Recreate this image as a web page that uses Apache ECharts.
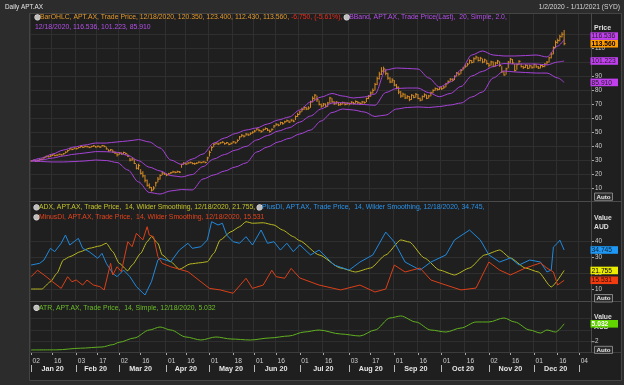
<!DOCTYPE html>
<html><head><meta charset="utf-8">
<script src="https://cdn.jsdelivr.net/npm/echarts@6/dist/echarts.min.js"></script>
<style>html,body{margin:0;padding:0;background:#2c2c2c;}#c{width:624px;height:385px;}</style>
</head><body><div id="c"></div>
<script>
// ---------- categories: ASX trading days 2 Jan 2020 .. 11 Jan 2021 ----------
const holidays = ['2020-01-01','2020-01-27','2020-04-10','2020-04-13','2020-06-08','2020-12-25','2020-12-28','2021-01-01'];
const startDate = '2020-01-02', endDate = '2021-01-11';
const MONTHS = ['Jan','Feb','Mar','Apr','May','Jun','Jul','Aug','Sep','Oct','Nov','Dec'];

// ---------- price bars (one per trading day up to 18 Dec 2020) ----------
const closes = [
29.8,30.3,29.6,30.2,30.8, 31.0,32.4,33.1,32.8,33.5, 34.2,33.6,34.0,34.6,34.1, 35.0,36.1,37.2,38.5,38.0,39.0,
38.6,39.5,40.1,39.6,40.3, 40.0,39.4,40.2,40.6,39.8, 40.4,39.7,40.8,40.2,38.4, 37.0,37.8,36.2,35.4,34.2,
35.6,34.8,35.9,35.0,33.2, 30.4,31.2,28.0,24.6,26.5, 21.0,19.2,16.0,12.4,11.0, 9.0,10.5,14.2,16.8,19.5, 21.2,20.4,
19.8,20.6,21.4,22.0,21.6, 22.2,21.8,27.4,28.2, 27.6,28.4,28.8,28.0,27.8, 28.3,29.0,28.6,29.2,28.7,32.0,
36.0,39.5,41.8, 42.6,41.9,42.8,43.2,42.1, 42.9,41.6,42.4,43.5,42.8, 44.5,47.0,48.2,47.5,49.0, 48.4,49.6,50.3,
51.2,52.6,51.5,50.8,52.2, 53.0,51.8,50.9,52.4, 54.8,56.0,55.3,57.2,56.4, 57.8,58.6,57.5,59.0,58.2, 61.5,63.0,
64.8,66.5,68.0,66.9,67.6, 72.0,74.5,76.8,73.5,70.2, 69.0,70.5,68.6,71.2,74.8, 72.0,70.6,71.8,69.9,70.4, 71.5,70.2,71.0,
70.6,71.8,70.9,72.3,71.4, 70.8,72.0,71.5,
74.5,76.0,78.4,80.2,84.5,88.6,91.8,94.0,95.5,92.4,
89.0,86.2,87.5,84.0,82.5,79.0,76.2,
77.5,74.8,75.9,73.6,76.8,75.2,77.4,74.5,73.2,75.8,77.0,74.6,76.2,78.5,80.2,
81.5,80.8,82.0,81.4,82.6,84.8,
86.5,88.2,87.4,90.0,92.6,91.8,94.5,96.2,97.5,99.0,
101.5,100.2,102.8,104.0,101.6,103.2,100.5,102.0,99.5,
98.2,100.6,97.4,99.8,101.2,98.0,
93.5,91.2,95.6,
100.4,102.5,99.8,94.5,98.6,101.0,
97.2,96.5,98.2,96.0,97.8,96.4,98.6,97.0,96.2,98.0,97.3,99.0,100.4,
103.5,106.2,110.8,114.5,115.8,118.6,120.31,113.56];
const highs = [
30.4,30.7,30.5,30.6,31.2, 31.6,32.8,33.6,33.4,33.9, 34.6,34.4,34.5,35.0,34.9, 35.4,36.6,37.8,38.9,38.8,39.5,
39.4,39.9,40.6,40.3,40.8, 40.7,40.2,40.6,41.1,40.6, 40.8,40.5,41.2,41.0,40.0, 38.2,38.3,37.9,36.6,35.5,
36.2,36.0,36.4,35.8,34.6, 32.0,31.9,31.0,27.5,27.8, 24.0,22.5,19.8,16.5,13.8, 11.2,11.8,15.0,18.4,20.2, 22.4,21.6,
20.8,21.3,22.0,22.8,22.5, 22.9,22.6,27.8,29.0, 28.5,28.9,29.4,28.9,28.6, 28.8,29.5,29.3,29.7,29.4,32.8,
37.2,40.4,42.6, 43.4,42.9,43.3,43.9,43.0, 43.4,42.6,43.0,44.0,43.6, 45.2,47.6,49.0,48.4,49.8, 49.5,50.2,51.0,
52.0,53.4,52.8,51.9,52.9, 53.8,53.2,52.2,53.0, 55.5,56.8,56.4,57.9,57.6, 58.5,59.4,58.8,59.6,59.3, 62.3,64.2,
65.6,67.8,68.8,68.4,68.9, 72.8,76.0,77.6,76.4,73.0, 70.8,71.2,70.9,72.0,75.6, 74.6,72.5,72.6,72.0,71.3, 72.2,72.0,71.8,
71.6,72.5,72.0,73.1,72.6, 71.9,72.7,72.4,
75.0,76.9,79.4,81.6,85.6,90.0,93.5,96.8,97.2,95.3,
92.8,89.6,88.9,87.6,84.8,83.0,79.8,
78.6,77.9,76.8,76.2,77.5,77.0,78.4,77.6,75.0,76.6,78.1,77.2,77.0,79.3,81.0,
82.3,82.0,82.8,82.5,83.4,85.6,
87.4,89.0,88.8,90.9,93.3,93.0,95.4,97.0,98.6,99.8,
102.4,101.9,103.9,105.0,104.1,104.2,103.0,102.9,101.8,
99.8,101.4,100.9,100.6,102.0,101.0,
97.5,94.0,96.4,
101.2,103.4,102.6,99.2,99.4,101.8,
99.4,97.9,98.9,98.5,98.6,98.0,99.3,98.9,97.6,98.8,98.6,99.8,101.2,
104.2,107.4,111.6,115.9,117.2,119.9,121.8,123.4];
const lows = [
29.3,29.6,29.1,29.5,30.0, 30.4,31.2,32.2,32.3,32.7, 33.4,33.2,33.3,33.9,33.7, 34.2,35.2,36.0,37.4,37.5,38.1,
38.0,38.7,39.3,39.2,39.5, 39.5,39.0,39.4,40.0,39.4, 39.6,39.2,40.0,39.6,38.0, 36.4,36.9,35.8,34.9,33.0,
34.0,34.2,34.9,34.3,32.6, 29.5,30.0,27.6,23.8,23.5, 20.2,18.0,14.5,11.5,10.2, 8.0,8.9,11.5,14.6,16.5, 19.6,19.8,
19.0,19.7,20.5,21.2,21.0, 21.4,21.2,25.0,27.1, 27.0,27.5,28.0,27.4,27.1, 27.6,28.2,28.1,28.5,28.1,29.6,
33.0,37.0,39.8, 41.6,41.2,41.9,42.5,41.5, 41.9,41.0,41.5,42.5,42.1, 43.2,45.0,46.8,46.6,47.8, 47.7,48.3,49.4,
50.2,51.5,50.9,49.9,51.0, 52.0,51.2,50.0,51.3, 53.2,54.9,54.6,55.6,55.8, 56.8,57.6,57.0,57.9,57.5, 59.0,61.2,
62.8,64.9,66.2,66.1,66.4, 67.8,71.6,73.4,72.0,69.5, 67.8,68.7,68.0,68.5,70.9, 71.5,69.8,70.2,69.2,69.4, 70.1,69.5,69.8,
69.6,70.3,70.2,70.8,70.5, 69.8,70.6,70.7,
71.8,74.0,75.6,77.9,80.4,84.0,88.0,91.2,92.5,91.0,
87.8,85.4,85.6,83.2,81.0,77.5,74.9,
75.4,74.0,74.2,72.5,73.4,74.6,75.0,73.9,72.4,73.0,75.2,74.0,74.5,76.0,78.2,
80.0,80.1,80.5,80.6,81.3,82.4,
84.9,86.6,86.5,87.6,90.2,90.8,92.0,94.6,96.3,97.4,
99.2,99.5,100.0,102.2,100.8,101.0,99.6,100.1,98.6,
96.8,98.0,96.8,97.2,99.0,97.1,
92.6,90.8,91.5,
96.0,99.8,99.0,93.6,94.9,98.4,
96.6,95.5,96.2,95.4,95.9,95.8,96.1,96.4,95.5,95.9,96.6,96.8,98.7,
100.2,103.0,106.0,110.4,113.6,115.2,118.0,112.43];
const lastOpen = 120.350;

// ---------- Bollinger band (20, 2.0) read at these trading-day indices ----------
const bbIdx = [0,5,10,15,20,25,30,35,40,45,50,55,60,65,70,75,80,85,90,95,100,105,110,115,120,125,130,135,140,145,150,155,160,165,170,175,180,185,190,195,200,205,210,215,220,225,230,235,240,245,248];
const bbUpper = [29.8,31.9,34.8,37.6,39.8,41.2,42.6,42.6,43.4,44.1,45.1,43.4,39.1,30.5,27.3,31.2,34.8,42.6,46.2,49.4,51.9,53.4,56.2,59.1,61.2,66.2,71.9,75.5,78.0,76.2,74.8,75.5,77.6,94.8,96.2,95.9,95.5,89.1,82.6,86.2,94.8,105.5,108.4,105.5,104.8,104.8,105.1,105.5,104.1,111.9,116.536];
const bbMiddle = [29.8,30.6,31.9,33.4,34.6,35.5,36.5,36.4,36.0,33.8,30.0,25.4,22.7,19.4,18.4,20.1,25.8,31.2,34.4,37.5,40.2,44.8,48.0,51.2,53.5,57.6,61.9,67.0,71.2,71.5,70.5,70.1,69.6,78.7,81.6,81.9,81.9,78.6,75.7,78.0,83.0,90.5,93.8,97.3,99.4,99.1,99.1,99.1,98.4,100.5,101.223];
const bbLower = [29.8,29.4,29.1,29.1,29.4,29.8,30.5,30.1,28.7,23.4,14.8,7.3,6.2,8.4,9.4,9.1,16.9,19.8,22.6,25.5,28.4,36.2,39.8,43.4,45.9,49.1,51.9,58.4,64.4,66.9,66.2,64.8,61.6,62.6,66.9,68.0,68.4,68.0,68.7,69.8,71.2,75.5,79.1,89.1,94.1,93.4,93.0,92.6,92.6,89.1,85.910];

// ---------- ADX / DI (14, Wilder) : [tradingDayIndex, value] ----------
const adxPts = [[0,10],[5,10],[9,14.6],[12,19.9],[15,28.4],[18,30.5],[23,33.7],[27,35.8],[32,37.3],[35,39],[38,33.7],[41,26.3],[45,21.6],[47,25.2],[51,32.6],[54,40],[56,43.2],[59,39],[61,31.6],[65,27.3],[69,22.5],[74,25.9],[79,26.7],[82,27.3],[85,32.6],[88,41.1],[93,46.3],[97,49.5],[100,52.7],[103,51.7],[108,52],[113,50.6],[117,47.4],[122,43.2],[125,40.6],[134,31.6],[144,23.3],[151,20.8],[158,23.3],[165,31.6],[172,41.1],[176,39.8],[183,29.7],[190,22],[197,18.9],[204,23.3],[211,31.6],[218,34.7],[223,29.7],[230,23.3],[236,20.8],[242,11.3],[248,21.755]];
const plusDiPts = [[0,25.2],[4,26.3],[6,28.4],[9,35.8],[11,33.7],[14,39],[16,44.2],[18,37.9],[22,42.1],[24,35.8],[27,33.7],[31,29.5],[33,32.6],[35,26.3],[38,19.9],[40,17.8],[43,22],[46,17.8],[49,11.5],[53,6.2],[56,14.6],[59,28.4],[60,29.5],[65,27.3],[69,34.7],[73,39],[75,35.8],[79,36.8],[82,41.1],[84,52.7],[87,50.6],[89,51.7],[91,44.2],[94,40],[97,39],[100,43.2],[103,37.9],[107,47.4],[110,39],[113,40],[116,34.7],[119,39],[122,33.7],[125,38],[130,31.6],[134,34.7],[141,25.2],[148,22],[153,27.1],[159,31.6],[165,46.1],[169,39.8],[174,27.1],[181,22],[186,27.1],[193,31.6],[197,41.1],[204,47.4],[209,41.1],[213,31.6],[218,27.1],[223,29.7],[227,25.2],[232,28.4],[237,27.1],[240,20.8],[242,22],[243,36.6],[245,39.2],[246,41],[248,34.745]];
const minusDiPts = [[0,17.8],[3,21.9],[6,18.9],[10,14.6],[14,10.4],[17,17.8],[19,14.6],[21,15.7],[24,12.5],[26,15.7],[29,12.5],[32,11.5],[34,9.4],[37,26.3],[38,18.9],[40,24.1],[42,21],[45,40],[47,36.8],[49,45.3],[52,41.1],[54,49.5],[55,44.2],[57,43.2],[59,30.5],[61,26.3],[65,24.1],[69,22.5],[73,21],[79,14.6],[83,10.4],[88,9.4],[94,7.3],[100,16.8],[103,10.4],[108,12.5],[112,21.9],[114,17.8],[118,16.8],[121,23.1],[125,17],[134,12.5],[144,9.4],[153,12.5],[160,8.1],[165,10],[169,25.2],[174,20.8],[181,23.3],[186,15.7],[193,12.5],[200,9.4],[207,10.6],[213,27.1],[218,22],[223,18.9],[230,23.3],[237,26.5],[240,23.3],[243,20.8],[245,12.5],[248,15.531]];

// ---------- ATR (14, simple) ----------
const atrPts = [[0,0.6],[12,0.62],[23,0.9],[33,1.1],[38,1.5],[41,1.9],[48,2.63],[55,3.98],[60,4.49],[65,3.98],[72,2.8],[79,2.29],[86,2.8],[93,2.46],[102,2.29],[111,2.63],[120,2.97],[127,3.64],[134,3.98],[144,3.31],[153,2.97],[160,3.98],[167,6.02],[172,6.36],[179,5.34],[186,3.98],[193,3.64],[200,4.32],[207,5.34],[213,5.34],[220,6.02],[225,5.34],[232,3.98],[237,3.47],[240,3.98],[244,3.64],[248,5.032]];

// ================= build =================
function buildDates(){
  const out=[]; const hs=new Set(holidays);
  let d=new Date(startDate+'T00:00:00Z'); const e=new Date(endDate+'T00:00:00Z');
  while(d<=e){const wd=d.getUTCDay(); const s=d.toISOString().slice(0,10);
    if(wd!==0&&wd!==6&&!hs.has(s)) out.push(s); d=new Date(d.getTime()+86400000);}
  return out;
}
const dates = buildDates();
if(highs.length!==closes.length||lows.length!==closes.length) throw new Error('len '+closes.length+' '+highs.length+' '+lows.length);
if(bbUpper.length!==bbIdx.length||bbMiddle.length!==bbIdx.length||bbLower.length!==bbIdx.length) throw new Error('bb len');

const dayTicks=new Set(), monthStarts=new Set(), monthMids=new Set();
{ let s=0;
  for(let i=0;i<dates.length;i++){
    const m=dates[i].slice(0,7), dd=+dates[i].slice(8,10);
    const pm=i>0?dates[i-1].slice(0,7):null, pd=i>0?+dates[i-1].slice(8,10):0;
    if(m!==pm){ if(i>0 && i-s>=10) monthMids.add(Math.floor((s+i-1)/2)); s=i; dayTicks.add(i); monthStarts.add(i); }
    else if(dd>=16 && pd<16) dayTicks.add(i);
  }
  if(dates.length-s>=10) monthMids.add(Math.floor((s+dates.length-1)/2));
}

const FONT='"Liberation Sans", Arial, sans-serif';
const LF=6.85;
const C_BAR='#d88d24', C_BB='#a643d8', C_ADX='#b9b821', C_PDI='#2089dc', C_MDI='#da4018', C_ATR='#60b020';
const GRID_C='#2f2f2f', LBL_C='#cfcfcf';
const L=30, R=33;

const grids=[
  {left:L,right:R,top:34.7,height:154},
  {left:L,right:R,top:241.7,height:47.3},
  {left:L,right:R,top:318.1,height:23.6},
  {left:L,right:R,top:14,height:186},
  {left:L,right:R,top:203,height:97},
  {left:L,right:R,top:303,height:49}
];
const hidX = g=>({type:'category',gridIndex:g,data:dates,boundaryGap:true,show:false});
const panelX = g=>({type:'category',gridIndex:g,position:'bottom',data:dates,boundaryGap:true,axisLine:{show:false},axisTick:{show:false},axisLabel:{show:false},
  splitLine:{show:true,interval:(i)=>dayTicks.has(i),lineStyle:{color:GRID_C,width:1}}});
const xAxes=[hidX(0),hidX(1),hidX(2),panelX(3),panelX(4),
  Object.assign(panelX(5),{offset:5,axisTick:{show:true,interval:(i)=>dayTicks.has(i),alignWithLabel:true,length:3,lineStyle:{color:'#a8a8a8'}},
    axisLabel:{show:true,interval:(i)=>dayTicks.has(i),formatter:v=>v.slice(8,10),align:'left',padding:[0,0,0,1.5],margin:1,color:LBL_C,fontSize:6.6,fontFamily:FONT}}),
  {type:'category',gridIndex:5,position:'bottom',data:dates,boundaryGap:true,offset:13,axisLine:{show:false},splitLine:{show:false},
    axisTick:{show:true,interval:(i)=>monthStarts.has(i),alignWithLabel:true,length:7,lineStyle:{color:'#b8b8b8'}},
    axisLabel:{show:true,interval:(i)=>monthMids.has(i),formatter:v=>MONTHS[+v.slice(5,7)-1]+' '+v.slice(2,4),margin:1,color:'#e6e6e6',fontWeight:'bold',fontSize:7.2,fontFamily:FONT}}
];
const valY=(g,min,max,iv,fmt,tick)=>({type:'value',gridIndex:g,position:'right',min,max,interval:iv,
  axisLine:{show:false},axisTick:{show:tick,length:3,lineStyle:{color:'#a8a8a8'}},
  axisLabel:{formatter:fmt,color:LBL_C,fontSize:6.3,fontFamily:FONT,margin:4},
  splitLine:{show:true,lineStyle:{color:GRID_C,width:1}}});
const yAxes=[valY(0,10,120,10,v=>v<=110?String(v):'',true), valY(1,10,40,10,v=>String(v),true), valY(2,2,6,2,v=>v===2?'2':'',false),
  {type:'value',gridIndex:3,show:false,min:0,max:1},{type:'value',gridIndex:4,show:false,min:0,max:1},{type:'value',gridIndex:5,show:false,min:0,max:1}];

const lineS=(name,data,xi,color,smooth)=>({type:'line',name,xAxisIndex:xi,yAxisIndex:xi,data,showSymbol:false,symbol:'none',clip:false,
  smooth:smooth||false,smoothMonotone:'x',lineStyle:{color,width:1},z:3,silent:true});
const bbPairs=arr=>bbIdx.map((ix,k)=>[ix,arr[k]]);

const series=[
  {type:'custom',name:'BarOHLC',xAxisIndex:0,yAxisIndex:0,clip:false,z:2,silent:true,
    data:closes.map((c,i)=>[i,lows[i],highs[i],c]),encode:{x:0,y:[1,2,3]},
    renderItem:function(params,api){
      const i=api.value(0);
      const pl=api.coord([i,api.value(1)]), ph=api.coord([i,api.value(2)]), pc=api.coord([i,api.value(3)]);
      const x=pl[0];
      return {type:'group',children:[
        {type:'line',shape:{x1:x,y1:ph[1],x2:x,y2:pl[1]+0.01},style:{stroke:C_BAR,lineWidth:1}},
        {type:'line',shape:{x1:x,y1:pc[1],x2:x+1.6,y2:pc[1]},style:{stroke:C_BAR,lineWidth:1}}]};
    }},
  lineS('BBUpper',bbPairs(bbUpper),0,C_BB,0.3),
  lineS('BBMiddle',bbPairs(bbMiddle),0,C_BB,0.3),
  lineS('BBLower',bbPairs(bbLower),0,C_BB,0.3),
  lineS('ADX',adxPts,1,C_ADX,0.2),
  lineS('PlusDI',plusDiPts,1,C_PDI),
  lineS('MinusDI',minusDiPts,1,C_MDI),
  lineS('ATR',atrPts,2,C_ATR,0.3)
];

const chart=echarts.init(document.getElementById('c'),null,{renderer:'canvas'});
chart.setOption({animation:false,backgroundColor:'transparent',grid:grids,xAxis:xAxes,yAxis:yAxes,series});

// ---------- annotations ----------
const n=closes.length-1;
const f3=v=>v.toFixed(3);
const last=a=>a[a.length-1];
const chg=closes[n]-closes[n-1];
const pct=chg/closes[n-1]*100;
const RS=(c,extra)=>Object.assign({fill:c,color:c,fontSize:LF,fontFamily:FONT},extra||{});
const IC={width:5,height:5,backgroundColor:'#bdbdbd',borderColor:'#ececec',borderWidth:0.6,borderRadius:2.5,fill:'transparent',fontSize:5,verticalAlign:'middle'};
const legendRich={ic:IC,o:RS('#e39a30'),r:RS('#ee2c1c'),p:RS('#b450ea'),a:RS('#c6c42a'),b:RS('#2a93ec'),m:RS('#e4441c'),g:RS('#6cbf28')};
const txt=(x,y,text,extra,z)=>({type:'text',x,y,z:(z||60),silent:true,style:Object.assign({text,fontSize:LF,fontFamily:FONT,verticalAlign:'middle',rich:legendRich,fill:'#ddd'},extra||{})});

const els=[];
els.push({type:'rect',z:-10,silent:true,shape:{x:29.5,y:13.5,width:592,height:367},style:{fill:'#1f1f1f',stroke:'#444'}});
els.push({type:'line',z:40,silent:true,shape:{x1:29.5,y1:201.5,x2:621.5,y2:201.5},style:{stroke:'#4a4a4a',lineWidth:1}});
els.push({type:'line',z:40,silent:true,shape:{x1:29.5,y1:301.5,x2:621.5,y2:301.5},style:{stroke:'#4a4a4a',lineWidth:1}});
els.push({type:'line',z:40,silent:true,shape:{x1:29.5,y1:352.5,x2:621.5,y2:352.5},style:{stroke:'#3c3c3c',lineWidth:1}});
els.push({type:'line',z:40,silent:true,shape:{x1:591.5,y1:13.5,x2:591.5,y2:352.5},style:{stroke:'#4a4a4a',lineWidth:1}});
els.push(txt(5,7,'Daily APT.AX',{fontSize:6.4,fill:'#e4e4e4',rich:null}));
els.push(txt(620,7,'1/2/2020 - 1/11/2021 (SYD)',{align:'right',fontSize:6.7,fill:'#d6d6d6',rich:null}));
els.push(txt(35,17.3,'{ic| }{o|BarOHLC, APT.AX, Trade Price, 12/18/2020, '+lastOpen.toFixed(3)+', '+f3(highs[n])+', '+f3(lows[n])+', '+f3(closes[n])+', }{r|'+chg.toFixed(3)+', ('+pct.toFixed(2)+'%), }{ic| }{p|BBand, APT.AX, Trade Price(Last),  20, Simple, 2.0,}'));
els.push(txt(35,26.8,'{p|12/18/2020, '+f3(last(bbUpper))+', '+f3(last(bbMiddle))+', '+f3(last(bbLower))+'}'));
els.push(txt(34,207.4,'{ic| }{a|ADX, APT.AX, Trade Price,  14, Wilder Smoothing, 12/18/2020, '+f3(last(adxPts)[1])+', }{ic| }{b|PlusDI, APT.AX, Trade Price,  14, Wilder Smoothing, 12/18/2020, '+f3(last(plusDiPts)[1])+',}'));
els.push(txt(34,217.3,'{ic| }{m|MinusDI, APT.AX, Trade Price,  14, Wilder Smoothing, 12/18/2020, '+f3(last(minusDiPts)[1])+'}'));
els.push(txt(34,307.8,'{ic| }{g|ATR, APT.AX, Trade Price,  14, Simple, 12/18/2020, '+f3(last(atrPts)[1])+'}'));
els.push(txt(594,28.3,'Price',{fontWeight:'bold',fontSize:7,fill:'#dedede',rich:null}));
els.push(txt(594,217.8,'Value',{fontWeight:'bold',fontSize:6.8,fill:'#dedede',rich:null}));
els.push(txt(594,227.6,'AUD',{fontWeight:'bold',fontSize:6.8,fill:'#dedede',rich:null}));
els.push(txt(594,317.6,'Value',{fontWeight:'bold',fontSize:6.8,fill:'#dedede',rich:null}));
els.push(txt(594,327.2,'AUD',{fontWeight:'bold',fontSize:6.8,fill:'#dedede',rich:null}));
[[193,200.3],[294.5,302],[346.3,353.4]].forEach(([t,b])=>{
  els.push({type:'rect',z:61,silent:true,shape:{x:594.5,y:t,width:18,height:b-t},style:{fill:'#2b2b2b',stroke:'#9a9a9a',lineWidth:0.8}});
  els.push(txt(603.5,(t+b)/2+0.2,'Auto',{align:'center',fontWeight:'bold',fontSize:6.2,fill:'#e8e8e8',rich:null},62));
});
{ const y2=chart.convertToPixel({yAxisIndex:2},2);
  els.push({type:'line',z:50,silent:true,shape:{x1:591.5,y1:y2,x2:594.5,y2:y2},style:{stroke:'#a8a8a8',lineWidth:1}}); }
function boxes(axis,specs){
  const H=7.6;
  specs.forEach(s=>{s.y=chart.convertToPixel({yAxisIndex:axis},s.v);});
  const order=specs.slice().sort((a,b)=>b.y-a.y);
  for(let k=1;k<order.length;k++){ if(order[k].y>order[k-1].y-H) order[k].y=order[k-1].y-H; }
  specs.forEach(s=>{
    els.push({type:'rect',z:70,silent:true,shape:{x:590.5,y:s.y-H/2,width:27.5,height:H},style:{fill:s.bg}});
    els.push(txt(591.6,s.y+0.3,f3(s.v),{fill:s.fg,fontSize:6.7,fontWeight:s.bold?'bold':'normal',rich:null},71));
  });
}
boxes(0,[{v:closes[n],bg:'#ff9a00',fg:'#000',bold:true},{v:last(bbUpper),bg:'#c23ff0',fg:'#202020'},{v:last(bbMiddle),bg:'#c23ff0',fg:'#202020'},{v:last(bbLower),bg:'#c23ff0',fg:'#202020'}]);
boxes(1,[{v:last(plusDiPts)[1],bg:'#1e98f4',fg:'#102030'},{v:last(adxPts)[1],bg:'#ecec00',fg:'#000'},{v:last(minusDiPts)[1],bg:'#f23c10',fg:'#2a0a00'}]);
boxes(2,[{v:last(atrPts)[1],bg:'#62d400',fg:'#ffffff',bold:true}]);

chart.setOption({graphic:{elements:els}});
</script></body></html>
